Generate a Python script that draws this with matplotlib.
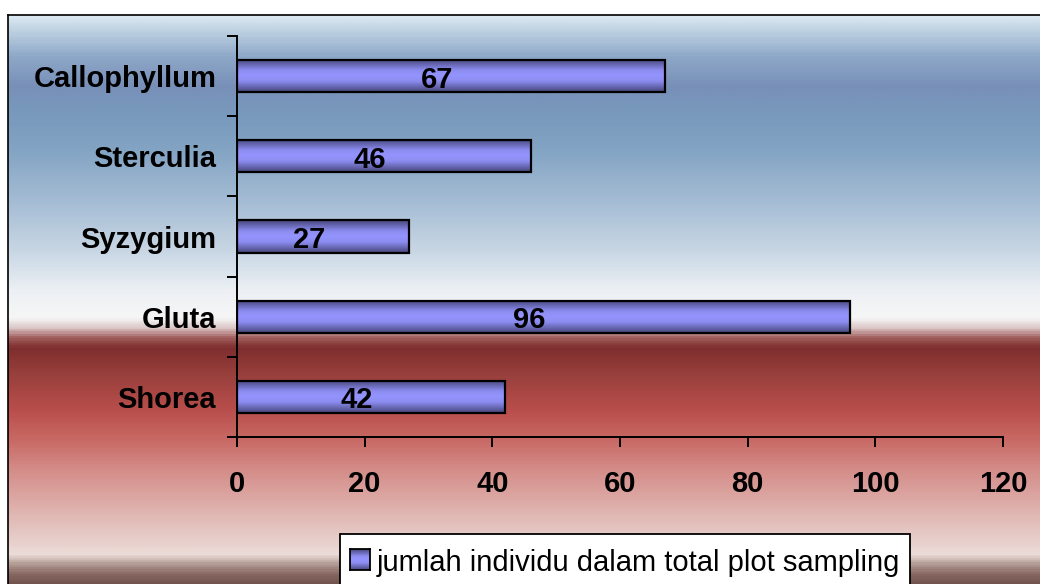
import numpy as np
import matplotlib
matplotlib.use("Agg")
import matplotlib.pyplot as plt
from matplotlib.colors import LinearSegmentedColormap
from matplotlib.patches import Rectangle

# data, top to bottom as shown
species = ['Callophyllum', 'Sterculia', 'Syzygium', 'Gluta', 'Shorea']
counts = [67, 46, 27, 96, 42]
legend_label = 'jumlah individu dalam total plot sampling'
x_ticks = [0, 20, 40, 60, 80, 100, 120]

plt.rcParams['font.family'] = ['Liberation Sans', 'DejaVu Sans']

W, H = 1040, 584
fig = plt.figure(figsize=(W / 100, H / 100), dpi=100)
fig.patch.set_facecolor('white')

# background gradient (stops given as pixel rows from the top)
stops = [
    (15, '#dae8f2'), (30, '#bcd0e0'), (55, '#8ea8c8'), (85, '#7890b8'),
    (110, '#7898bc'), (150, '#84a4c4'), (200, '#a4bcd4'), (250, '#c8d6e4'),
    (290, '#ecf0f4'), (318, '#f6f6f6'), (328, '#dcc8c8'), (338, '#a05e5c'),
    (348, '#7e2e2e'), (375, '#98403c'), (410, '#b84e4c'), (440, '#c86864'),
    (470, '#d48c88'), (500, '#dca8a4'), (530, '#e4c4c0'), (556, '#ecdcd8'),
    (566, '#b09890'), (576, '#866660'), (590, '#6a4a44'),
]
y0, y1 = stops[0][0], stops[-1][0]
cmap = LinearSegmentedColormap.from_list(
    'bg', [((y - y0) / (y1 - y0), c) for y, c in stops])
bg = fig.add_axes([8 / W, 1 - y1 / H, 1.2, (y1 - y0) / H])
bg.imshow(np.linspace(0, 1, 600).reshape(-1, 1), aspect='auto', cmap=cmap,
          extent=[0, 1, 0, 1], origin='upper')
bg.set_xticks([])
bg.set_yticks([])
for s in bg.spines.values():
    s.set_color('black')
    s.set_linewidth(1.2)
bg.set_zorder(0)

# main axes
ax = fig.add_axes([237 / W, 1 - 437 / H, (1003 - 237) / W, (437 - 36) / H])
ax.patch.set_alpha(0)
ax.set_zorder(1)

bar_cmap = LinearSegmentedColormap.from_list(
    'bar', ['#46467a', '#6a6ab8', '#8c8cf0', '#9494ff', '#8c8cf0', '#6a6ab8', '#46467a'])
grad = np.linspace(0, 1, 64).reshape(-1, 1)

ypos = np.arange(len(species))
bar_h = 0.4
bars = ax.barh(ypos, counts, height=bar_h, color='none', edgecolor='black',
               linewidth=1.6, zorder=3)
for b, v in zip(bars, counts):
    ax.imshow(grad, aspect='auto', cmap=bar_cmap, zorder=2,
              extent=[0, v, b.get_y() + bar_h, b.get_y()], origin='upper')
    ax.annotate(str(v), (v / 2, b.get_y() + bar_h / 2), xytext=(-10, -2.5),
                textcoords='offset points', ha='center', va='center',
                fontsize=21, fontweight='bold', color='black', zorder=4)

ax.set_xlim(0, 120)
ax.set_ylim(len(species) - 0.5, -0.5)
ax.set_xticks(x_ticks)
ax.set_xticklabels([str(t) for t in x_ticks], fontsize=21, fontweight='bold')
ax.set_yticks(np.arange(len(species) + 1) - 0.5)
ax.set_yticklabels([])
ax.set_yticks(ypos, minor=True)
ax.set_yticklabels(species, minor=True, fontsize=21, fontweight='bold')
ax.tick_params(axis='y', which='major', direction='out', length=7, width=1.4)
ax.tick_params(axis='y', which='minor', length=0, pad=15)
ax.tick_params(axis='x', direction='out', length=7, width=1.4, pad=17)
for s in ['top', 'right']:
    ax.spines[s].set_visible(False)
for s in ['left', 'bottom']:
    ax.spines[s].set_linewidth(1.4)

# legend box (runs off the bottom edge like the original)
fig.patches.append(Rectangle((340 / W, -0.05), (910 - 340) / W, 0.05 + 1 - 534 / H,
                             transform=fig.transFigure, facecolor='white',
                             edgecolor='black', linewidth=1.3, zorder=5))
key = fig.add_axes([350 / W, 1 - 570 / H, 20 / W, 21 / H])
key.imshow(grad, aspect='auto', cmap=bar_cmap, extent=[0, 1, 0, 1])
key.set_xticks([])
key.set_yticks([])
for s in key.spines.values():
    s.set_linewidth(1.3)
key.set_zorder(6)
fig.text(377 / W, 1 - 571 / H, legend_label, fontsize=21, ha='left',
         va='baseline', color='black', zorder=6)

fig.savefig('out.png', dpi=100)
